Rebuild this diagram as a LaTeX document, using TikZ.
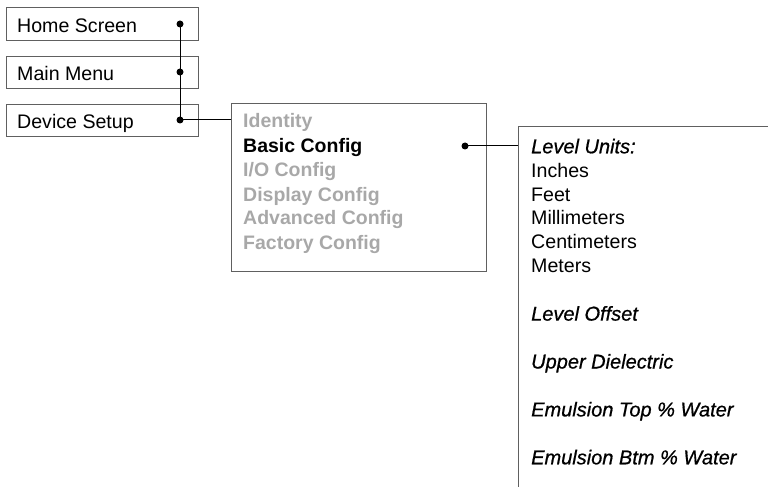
\documentclass[tikz,border=0pt]{standalone}
\usepackage{fontspec}
\setmainfont{Liberation Sans}
\newfontfamily\italmed[FakeBold=0.7]{Liberation Sans}
\begin{document}
\begin{tikzpicture}[x=1pt,y=-1pt,
  menubox/.style={draw=boxgray, line width=1pt, minimum width=192pt, minimum height=32.5pt, anchor=north west, inner sep=0pt, outer sep=0pt},
  lbl/.style={anchor=base west, inner sep=0pt, font=\fontsize{19.6}{24}\selectfont},
  dim/.style={lbl, text=dimgray, font=\fontsize{19.5}{24}\selectfont\bfseries},
  hot/.style={lbl, text=black, font=\fontsize{19.5}{24}\selectfont\bfseries},
  ital/.style={lbl, font=\italmed\fontsize{20}{24}\selectfont\itshape},
  dot/.style={circle, fill=black, inner sep=0pt, minimum size=7pt},
  conn/.style={draw=black, line width=1pt}]
\definecolor{boxgray}{HTML}{606060}
\definecolor{dimgray}{HTML}{A8A8A8}
\useasboundingbox (0,0) rectangle (768,489);
% left boxes
\node[menubox] (home) at (6,8) {};
\node[menubox] (main) at (6,56.5) {};
\node[menubox] (dev) at (6,104.5) {};
\node[lbl] (homet) at (17,32.3) {Home Screen};
\node[lbl] (maint) at (17,80.7) {Main Menu};
\node[lbl] (devt) at (17,129) {Device Setup};
\node[dot] (hdot) at (180,24) {};
\node[dot] (mdot) at (180,72) {};
\node[dot] (ddot) at (180,120) {};
% middle box
\node[draw=boxgray, line width=1pt, minimum width=255pt, minimum height=167pt, anchor=north west, inner sep=0pt, outer sep=0pt] (mid) at (231,104) {};
\node[dim] (identity) at (243,128) {Identity};
\node[hot] (basic) at (243,152.5) {Basic Config};
\node[dim] (io) at (243,176.8) {I/O Config};
\node[dim] (disp) at (243,201) {Display Config};
\node[dim] (adv) at (243,225) {Advanced Config};
\node[dim] (fact) at (243,249) {Factory Config};
\node[dot] (bdot) at (465,146) {};
% right open box
\coordinate (rtr) at (768,127);
\coordinate (rtl) at (518,127);
\coordinate (rbl) at (518,487);
\draw[draw=boxgray, line width=1pt] (rtr) -- (rtl) -- (rbl);
\node[ital] (units) at (531,153.3) {Level Units:};
\node[lbl] (inch) at (531,177.2) {Inches};
\node[lbl] (feet) at (531,201) {Feet};
\node[lbl] (mm) at (531,224.9) {Millimeters};
\node[lbl] (cm) at (531,248.8) {Centimeters};
\node[lbl] (m) at (531,272.7) {Meters};
\node[ital] (offset) at (531,320.6) {Level Offset};
\node[ital] (upper) at (531,368.5) {Upper Dielectric};
\node[ital] (etop) at (531,416.4) {Emulsion Top \% Water};
\node[ital] (ebtm) at (531,464.3) {Emulsion Btm \% Water};
% connectors
\draw[conn] (hdot.center) -- (mdot.center);
\draw[conn] (mdot.center) -- (ddot.center);
\draw[conn] (ddot.center) -- (ddot.center -| mid.west);
\draw[conn] (bdot.center) -- (bdot.center -| rtl);
\end{tikzpicture}
\end{document}
